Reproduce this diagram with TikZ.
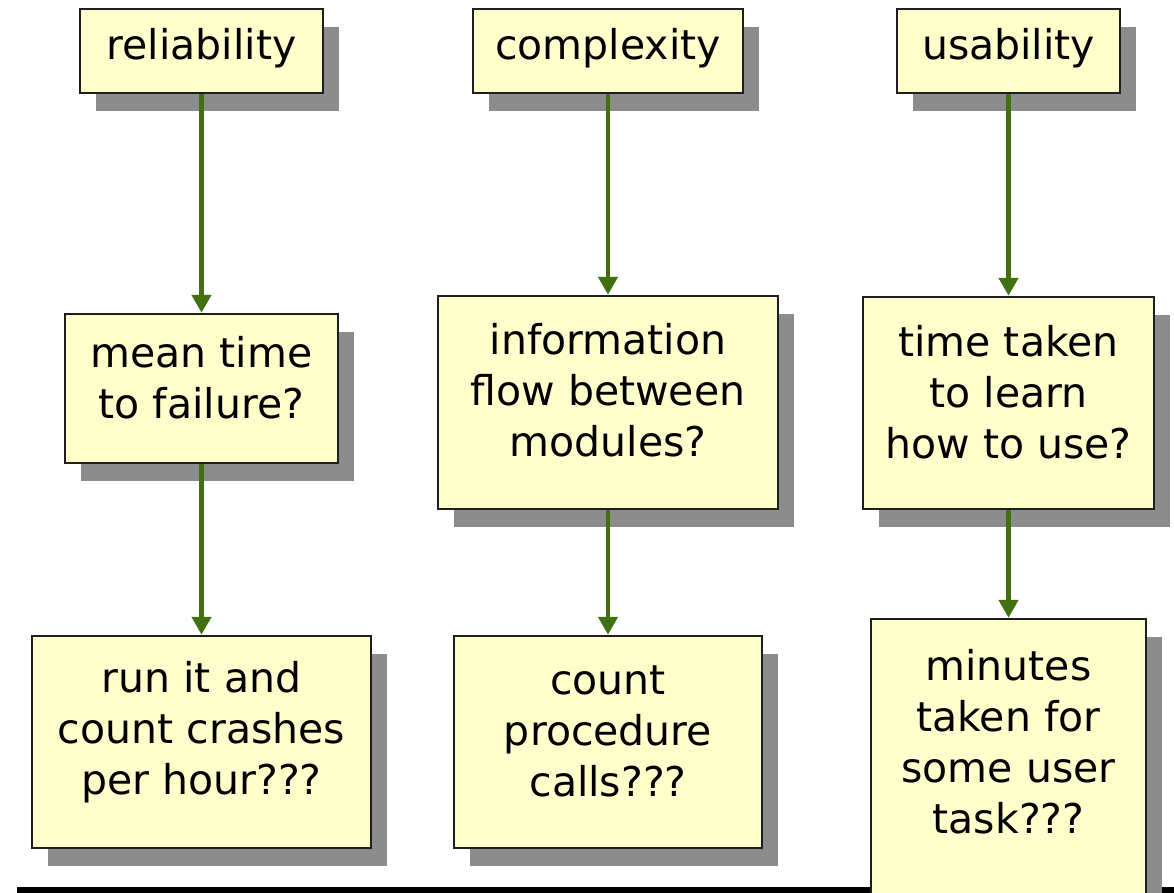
\documentclass[tikz,border=0pt]{standalone}
\usepackage{fontspec}
\setmainfont{DejaVu Sans}
\usetikzlibrary{arrows.meta,shadows}
\definecolor{boxfill}{RGB}{255,255,204}
\definecolor{boxline}{RGB}{30,30,30}
\definecolor{shgray}{RGB}{140,140,140}
\definecolor{arrgreen}{RGB}{64,112,18}
\definecolor{baseline}{RGB}{45,45,45}
\tikzset{
  box/.style={draw=boxline, line width=2.5pt, fill=boxfill, rectangle, inner sep=0pt,
    drop shadow={shadow xshift=16pt, shadow yshift=-18pt, fill=shgray, opacity=1}},
  boxtext/.style={inner sep=0pt, align=center, font=\fontsize{41}{51}\selectfont},
  arr/.style={draw=arrgreen, line width=4.5pt, -{Triangle[length=18pt,width=19pt]}, arrgreen}
}
% #1 name, #2 width, #3 height, #4 centre, #5 text shift, #6 text
\newcommand\mybox[6]{%
  \node[box, minimum width=#2, minimum height=#3] (#1) at (#4) {};
  \node[boxtext, yshift=#5] (#1-t) at (#1) {#6};}
\begin{document}
\begin{tikzpicture}[x=1pt,y=-1pt]
\useasboundingbox (0,0) rectangle (1174,892);
\clip (0,0) rectangle (1174,892);
\fill[white] (0,0) rectangle (1174,892);
% base line
\fill[baseline] (17,887) rectangle (1174,900);
% column 1
\mybox{rel}{243pt}{84pt}{201.5,51}{3pt}{reliability}
\mybox{mtf}{273pt}{149pt}{201.5,388.5}{11pt}{mean time\\to failure?}
\mybox{run}{339pt}{212pt}{201.5,742}{10pt}{run it and\\count crashes\\per hour???}
% column 2
\mybox{com}{270pt}{84pt}{608,51}{3pt}{complexity}
\mybox{ifb}{340pt}{213pt}{608,402.5}{12pt}{information\\flow between\\modules?}
\mybox{cpc}{308pt}{212pt}{608,742}{11pt}{count\\procedure\\calls???}
% column 3
\mybox{usa}{223pt}{84pt}{1008.5,51}{3pt}{usability}
\mybox{ttl}{291pt}{212pt}{1008.5,403}{11pt}{time taken\\to learn\\how to use?}
\node[box, minimum width=275pt, minimum height=300pt] (min) at (1008.5,769) {};
\node[boxtext] (min-t) at (1008.5,742) {minutes\\taken for\\some user\\task???};
% arrows
\draw[arr] (rel.south) -- (mtf.north);
\draw[arr] (mtf.south) -- (run.north);
\draw[arr] (com.south) -- (ifb.north);
\draw[arr] (ifb.south) -- (cpc.north);
\draw[arr] (usa.south) -- (ttl.north);
\draw[arr] (ttl.south) -- (min.north);
\end{tikzpicture}
\end{document}
